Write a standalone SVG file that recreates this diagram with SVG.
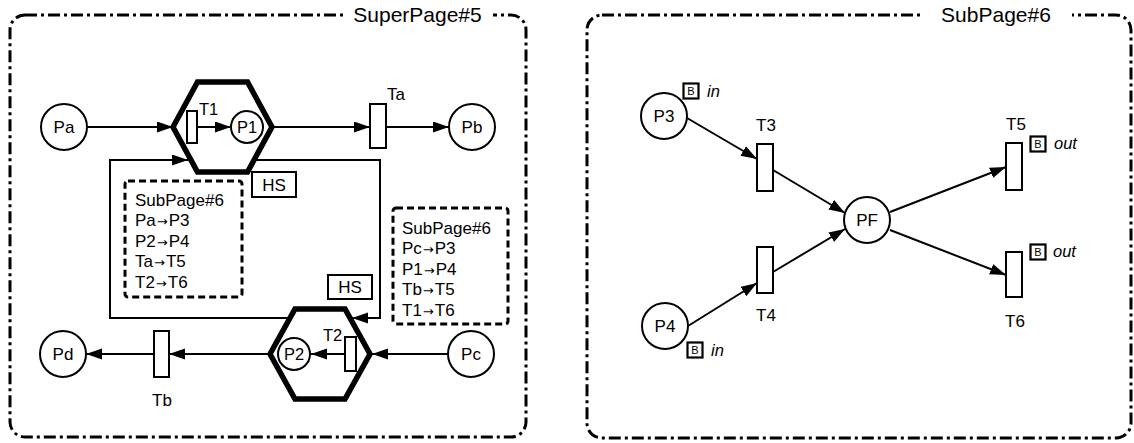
<svg xmlns="http://www.w3.org/2000/svg" width="1134" height="443" viewBox="0 0 1134 443">
<defs>
<marker id="ah" markerUnits="userSpaceOnUse" markerWidth="17" markerHeight="12" refX="16" refY="5.5" orient="auto"><path d="M0,0 L16,5.5 L0,11 z" fill="#000"/></marker>
</defs>
<style>
text{font-family:"Liberation Sans",Arial,sans-serif;fill:#000}
.frame{fill:none;stroke:#000;stroke-width:3;stroke-dasharray:12 4 3 4}
.title{font-size:21px;text-anchor:middle}
.pl{fill:#fff;stroke:#000;stroke-width:2}
.tr{fill:#fff;stroke:#000;stroke-width:2}
.hex{fill:none;stroke:#000;stroke-width:5.5;stroke-linejoin:miter}
.arc{fill:none;stroke:#000;stroke-width:2;marker-end:url(#ah)}
.lbl{font-size:17px}
.sm{font-size:16.5px}
.c{text-anchor:middle}
.box{fill:none;stroke:#000;stroke-width:3;stroke-dasharray:7 4}
.hs{fill:#fff;stroke:#000;stroke-width:2}
.bb{fill:#fff;stroke:#000;stroke-width:2.2}
.bt{font-size:11px;text-anchor:middle}
.it{font-size:16.5px;font-style:italic}
.bx{font-size:17px}
.ar{font-family:"DejaVu Sans",sans-serif;font-size:13px}
</style>

<g id="frame-super">
<rect class="frame" x="10" y="15" width="516" height="422" rx="15"/>
<rect x="343" y="4" width="150" height="22" fill="#fff"/>
<text class="title" x="417.5" y="22">SuperPage#5</text>
</g>
<g id="frame-sub">
<rect class="frame" x="587" y="15" width="544" height="423" rx="15"/>
<rect x="920" y="4" width="152" height="22" fill="#fff"/>
<text class="title" x="996" y="22">SubPage#6</text>
</g>

<g id="connectors">
<line class="arc" x1="87" y1="127" x2="173" y2="127"/>
<line class="arc" x1="197" y1="127" x2="231" y2="127"/>
<line class="arc" x1="272" y1="127" x2="370" y2="127"/>
<line class="arc" x1="386" y1="127" x2="449" y2="127"/>
<polyline class="arc" points="290,318 110,318 110,160 188,160"/>
<polyline class="arc" points="254,160 380,160 380,318 352,318"/>
<line class="arc" x1="448" y1="354" x2="372" y2="354"/>
<line class="arc" x1="345" y1="354" x2="311" y2="354"/>
<line class="arc" x1="270" y1="354" x2="169" y2="354"/>
<line class="arc" x1="154" y1="354" x2="86" y2="354"/>
<line class="arc" x1="687" y1="118" x2="757" y2="159"/>
<line class="arc" x1="773" y1="170" x2="845" y2="213"/>
<line class="arc" x1="688" y1="326" x2="757" y2="283"/>
<line class="arc" x1="773" y1="272" x2="845" y2="229"/>
<line class="arc" x1="890" y1="212" x2="1006" y2="167"/>
<line class="arc" x1="890" y1="230" x2="1006" y2="275"/>
</g>

<g id="hex1"><polygon class="hex" points="173,127 197.5,82 247.5,82 272,127 247.5,172 197.5,172"/></g>
<g id="hex2"><polygon class="hex" points="270,354 295,309 345,309 370,354 345,399 295,399"/></g>

<g id="Pa"><circle class="pl" cx="64" cy="127" r="23"/><text class="lbl c" x="64" y="133">Pa</text></g>
<g id="Pb"><circle class="pl" cx="472" cy="127" r="23"/><text class="lbl c" x="472" y="133">Pb</text></g>
<g id="Pc"><circle class="pl" cx="471" cy="354" r="23"/><text class="lbl c" x="471" y="360">Pc</text></g>
<g id="Pd"><circle class="pl" cx="63" cy="354" r="23"/><text class="lbl c" x="63" y="360">Pd</text></g>
<g id="P1"><circle class="pl" cx="247" cy="127" r="16"/><text class="sm c" x="247" y="133">P1</text></g>
<g id="P2"><circle class="pl" cx="294" cy="354" r="16"/><text class="sm c" x="294" y="360">P2</text></g>
<g id="T1"><rect class="tr" x="187" y="111" width="10" height="32"/><text class="sm" x="199" y="115">T1</text></g>
<g id="T2"><rect class="tr" x="345" y="337" width="11" height="34"/><text class="sm" x="323" y="341">T2</text></g>
<g id="Ta"><rect class="tr" x="370" y="104" width="16" height="44"/><text class="lbl" x="387" y="100">Ta</text></g>
<g id="Tb"><rect class="tr" x="154" y="331" width="15" height="46"/><text class="lbl c" x="162" y="406">Tb</text></g>

<g id="HS1"><rect class="hs" x="252" y="172" width="44" height="25"/><text class="lbl c" x="274" y="191">HS</text></g>
<g id="HS2"><rect class="hs" x="328" y="275" width="44" height="24"/><text class="lbl c" x="350" y="293">HS</text></g>

<g id="map1">
<rect class="box" x="125" y="181" width="117" height="116" rx="3"/>
<text class="bx" x="135" y="205.5">SubPage#6</text>
<text class="bx" x="135" y="226">Pa<tspan class="ar" dx="1">→</tspan><tspan dx="1">P3</tspan></text>
<text class="bx" x="135" y="246.5">P2<tspan class="ar" dx="1">→</tspan><tspan dx="1">P4</tspan></text>
<text class="bx" x="135" y="267">Ta<tspan class="ar" dx="1">→</tspan><tspan dx="1">T5</tspan></text>
<text class="bx" x="135" y="287.5">T2<tspan class="ar" dx="1">→</tspan><tspan dx="1">T6</tspan></text>
</g>
<g id="map2">
<rect class="box" x="393" y="208" width="115" height="116" rx="3"/>
<text class="bx" x="402" y="233.5">SubPage#6</text>
<text class="bx" x="402" y="254">Pc<tspan class="ar" dx="1">→</tspan><tspan dx="1">P3</tspan></text>
<text class="bx" x="402" y="274.5">P1<tspan class="ar" dx="1">→</tspan><tspan dx="1">P4</tspan></text>
<text class="bx" x="402" y="295">Tb<tspan class="ar" dx="1">→</tspan><tspan dx="1">T5</tspan></text>
<text class="bx" x="402" y="315.5">T1<tspan class="ar" dx="1">→</tspan><tspan dx="1">T6</tspan></text>
</g>

<g id="P3"><circle class="pl" cx="664" cy="116" r="23"/><text class="lbl c" x="664" y="122">P3</text>
<rect class="bb" x="683.5" y="83.5" width="15" height="15"/><text class="bt" x="691" y="95">B</text><text class="it" x="707" y="97">in</text></g>
<g id="P4"><circle class="pl" cx="665" cy="326" r="23"/><text class="lbl c" x="665" y="332">P4</text>
<rect class="bb" x="687.5" y="342.5" width="15" height="15"/><text class="bt" x="695" y="354">B</text><text class="it" x="711" y="356">in</text></g>
<g id="PF"><circle class="pl" cx="867" cy="220" r="23"/><text class="lbl c" x="867" y="226">PF</text></g>
<g id="T3"><rect class="tr" x="757" y="144" width="16" height="47"/><text class="lbl c" x="766" y="131">T3</text></g>
<g id="T4"><rect class="tr" x="757" y="247" width="16" height="46"/><text class="lbl c" x="766" y="321">T4</text></g>
<g id="T5"><rect class="tr" x="1006" y="143" width="16" height="47"/><text class="lbl c" x="1016" y="130">T5</text>
<rect class="bb" x="1030.5" y="136.5" width="15" height="15"/><text class="bt" x="1038" y="148">B</text><text class="it" x="1054" y="149">out</text></g>
<g id="T6"><rect class="tr" x="1006" y="252" width="16" height="45"/><text class="lbl c" x="1015" y="327">T6</text>
<rect class="bb" x="1030.5" y="244.5" width="15" height="15"/><text class="bt" x="1038" y="256">B</text><text class="it" x="1053" y="257">out</text></g>
</svg>
